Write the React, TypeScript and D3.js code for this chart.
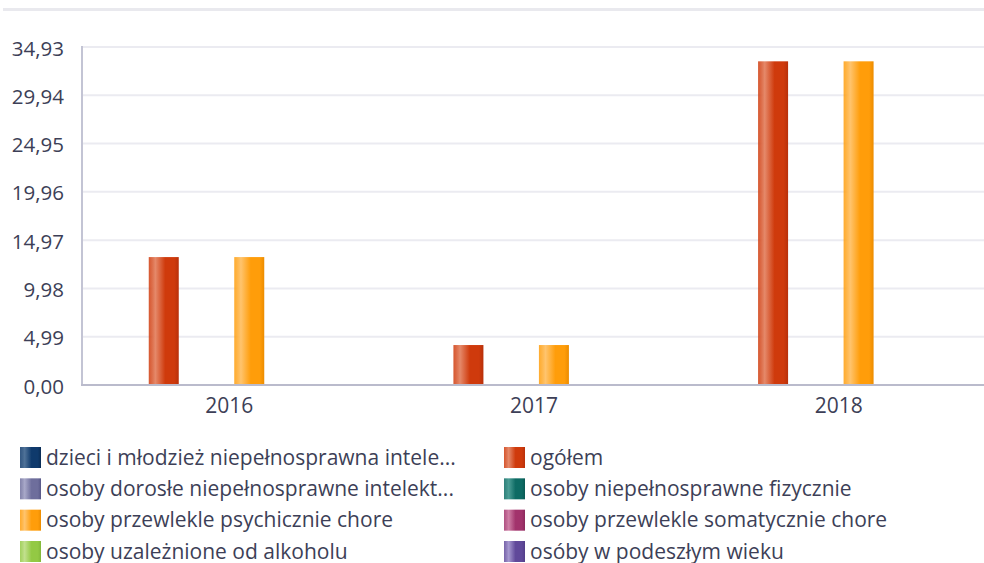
import * as d3 from "d3";

const years = ["2016", "2017", "2018"];
const seriesNames = [
  "dzieci i młodzież niepełnosprawna intele...",
  "ogółem",
  "osoby dorosłe niepełnosprawne intelekt...",
  "osoby niepełnosprawne fizycznie",
  "osoby przewlekle psychicznie chore",
  "osoby przewlekle somatycznie chore",
  "osoby uzależnione od alkoholu",
  "osóby w podeszłym wieku",
];
// values per series, one per year (null = no bar)
const dzieci = [null, null, null];
const ogolem = [13.22, 4.13, 33.45];
const dorosle = [null, null, null];
const fizycznie = [null, null, null];
const psychicznie = [13.22, 4.13, 33.45];
const somatycznie = [null, null, null];
const alkohol = [null, null, null];
const wieku = [null, null, null];
const seriesValues = [dzieci, ogolem, dorosle, fizycznie, psychicznie, somatycznie, alkohol, wieku];
const yTicks = [0, 4.99, 9.98, 14.97, 19.96, 24.95, 29.94, 34.93];

// [light, main, dark]
const palette = [
  ["#4f7298", "#0f3a6c", "#0a2c55"],
  ["#e5896a", "#cf3a0c", "#b8300a"],
  ["#a9a9c9", "#6e6e9c", "#585888"],
  ["#4c9e96", "#0d6b64", "#0a5853"],
  ["#ffc46e", "#ff9d0a", "#ec8c00"],
  ["#cf7fa6", "#a2336c", "#8c2a5c"],
  ["#c2e08e", "#93c944", "#82b83a"],
  ["#a699d0", "#60499a", "#523d88"],
];

const W = 984;
const H = 563;
const font = "'Open Sans', sans-serif";
const textColor = "#3d3f57";

export default function App() {
  const x0 = d3.scaleBand().domain(years).range([77, 991]).padding(0);
  const x1 = d3
    .scaleBand()
    .domain(seriesNames)
    .range([44, 272])
    .padding(0);
  const y = d3.scaleLinear().domain([0, 34.93]).range([385, 47]);
  const plotLeft = 82;
  const barW = x1.bandwidth() + 1.5;
  const legendY = d3.scaleLinear().domain([0, 3]).range([447, 541]);

  const fmt = (v: number) => v.toFixed(2).replace(".", ",");

  return (
    <div style={{ position: "fixed", left: 0, top: 0 }}>
      <svg width={W} height={H} style={{ display: "block", background: "#fff" }}>
        <defs>
          {palette.map((c, i) => (
            <linearGradient key={i} id={`g${i}`} x1="0" x2="1" y1="0" y2="0">
              <stop offset="0" stopColor={c[1]} stopOpacity={0.85} />
              <stop offset="0.22" stopColor={c[0]} />
              <stop offset="0.55" stopColor={c[1]} />
              <stop offset="0.85" stopColor={c[1]} />
              <stop offset="1" stopColor={c[2]} />
            </linearGradient>
          ))}
        </defs>

        {/* top strip */}
        <rect x={3} y={8} width={W} height={3} fill="#e9e9ee" />

        {/* grid */}
        {yTicks.map((t) => (
          <g key={t}>
            <line
              x1={plotLeft}
              x2={W}
              y1={y(t)}
              y2={y(t)}
              stroke="#ebebf1"
              strokeWidth={2}
            />
            <text
              x={64}
              y={y(t) + 8.5}
              textAnchor="end"
              fontFamily={font}
              fontSize={20.5}
              fill={textColor}
            >
              {fmt(t)}
            </text>
          </g>
        ))}

        {/* bars */}
        {years.map((yr, yi) => (
          <g key={yr} transform={`translate(${x0(yr)},0)`}>
            {seriesNames.map((s, si) => {
              const v = seriesValues[si][yi];
              if (v == null) return null;
              const cx = (x1(s) as number) + x1.bandwidth() / 2;
              return (
                <rect
                  key={s}
                  x={cx - barW / 2}
                  y={y(v)}
                  width={barW}
                  height={y(0) - y(v)}
                  fill={`url(#g${si})`}
                />
              );
            })}
            <text
              x={x0.bandwidth() / 2}
              y={413}
              textAnchor="middle"
              fontFamily={font}
              fontSize={21}
              fill={textColor}
            >
              {yr}
            </text>
          </g>
        ))}

        {/* axes */}
        <line x1={plotLeft} x2={plotLeft} y1={46} y2={386} stroke="#c3c4d4" strokeWidth={2} />
        <line x1={plotLeft - 1} x2={W} y1={385} y2={385} stroke="#babbcc" strokeWidth={2} />

        {/* legend */}
        {seriesNames.map((s, i) => {
          const col = i % 2;
          const row = Math.floor(i / 2);
          const lx = col === 0 ? 20 : 504;
          const ly = legendY(row);
          return (
            <g key={s} transform={`translate(${lx},${ly})`}>
              <rect width={21} height={21} fill={`url(#g${i})`} />
              <text
                x={26}
                y={17.5}
                fontFamily={font}
                fontSize={21}
                fill={textColor}
              >
                {s}
              </text>
            </g>
          );
        })}
      </svg>
    </div>
  );
}
